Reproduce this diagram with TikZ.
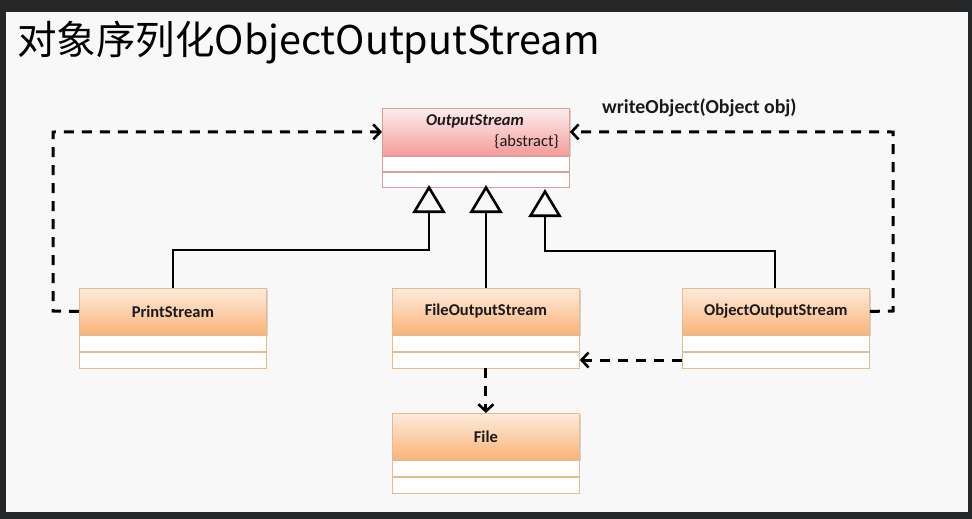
\documentclass[tikz,border=0pt]{standalone}
\usepackage{fontspec}
\setmainfont{Carlito}
\newfontfamily\cjkfont{Noto Sans CJK SC}
\usetikzlibrary{arrows.meta,shadows}
\definecolor{bgc}{HTML}{F8F8F8}
\definecolor{framec}{HTML}{252628}
\definecolor{orTop}{HTML}{FDEBDC}
\definecolor{orBot}{HTML}{FAB47A}
\definecolor{orLine}{HTML}{E9B98C}
\definecolor{pkTop}{HTML}{FDEDED}
\definecolor{pkBot}{HTML}{F49C9C}
\definecolor{pkLine}{HTML}{DE9C9C}
\definecolor{txt}{HTML}{1A1A1A}
\tikzset{
  hdr/.style={draw=orLine, line width=0.8pt, top color=orTop, bottom color=orBot,
    minimum width=187pt, minimum height=46pt, anchor=north west, inner sep=0pt,
    font=\fontsize{16.5}{19}\selectfont\bfseries, text=txt},
  cmp/.style={draw=orLine, line width=0.8pt, fill=white!97!orTop,
    minimum width=187pt, minimum height=16pt, anchor=north, inner sep=0pt},
  phdr/.style={hdr, draw=pkLine, top color=pkTop, bottom color=pkBot, minimum height=47pt},
  pcmp/.style={cmp, draw=pkLine, fill=white!97!pkTop, minimum height=15pt},
  shad/.style={drop shadow={shadow xshift=1.5pt, shadow yshift=-1.5pt, opacity=0.3}},
  inh/.style={line width=2.6pt, -{Triangle[open, length=28pt, width=33pt, line width=2.6pt]}},
  dep/.style={line width=3pt, dash pattern=on 10pt off 8pt,
    -{Straight Barb[length=7pt, width=15pt, line width=2.6pt]}},
}
\begin{document}
\begin{tikzpicture}[x=1pt,y=-1pt]
\fill[framec] (0,0) rectangle (972,519);
\fill[bgc] (6,12) rectangle (968,512);
\useasboundingbox (0,0) rectangle (972,519);

\node[anchor=west, inner sep=0pt, font=\fontsize{39.5}{46}\selectfont\cjkfont, text=black] (title) at (17,43) {对象序列化ObjectOutputStream};

% OutputStream
\node[phdr, shad] (os) at (382,108) {};
\node[pcmp] (os1) at (os.south) {};
\node[pcmp] (os2) at (os1.south) {};
\node[font=\fontsize{16.5}{19}\selectfont\bfseries\itshape, text=txt, inner sep=0pt] (osname) at (475,121) {OutputStream};
\node[font=\fontsize{16.5}{19}\selectfont, text=txt, inner sep=0pt, anchor=east] (osabs) at (559,142) {\{abstract\}};

% PrintStream
\node[hdr, shad] (ps) at (79,288) {PrintStream};
\node[cmp] (ps1) at (ps.south) {};
\node[cmp] (ps2) at (ps1.south) {};

% FileOutputStream
\node[hdr, shad] (fos) at (392,288) {FileOutputStream};
\node[cmp] (fos1) at (fos.south) {};
\node[cmp] (fos2) at (fos1.south) {};

% ObjectOutputStream
\node[hdr, shad] (oos) at (682,288) {ObjectOutputStream};
\node[cmp] (oos1) at (oos.south) {};
\node[cmp] (oos2) at (oos1.south) {};

% File
\node[hdr, shad] (file) at (392,413) {File};
\node[cmp] (file1) at (file.south) {};
\node[cmp] (file2) at (file1.south) {};

% inheritance
\coordinate (t1) at (429,185);
\coordinate (t2) at (486,185);
\coordinate (t3) at (545,189);
\draw[inh] (ps.north) |- (429,250) -- (t1);
\draw[inh] (fos.north -| t2) -- (t2);
\draw[inh] ([xshift=-1pt]oos.north) |- (545,251) -- (t3);

% dependencies
\draw[dep] (ps.west) -- (53,311) -- (53,132) -- (os.west);
\draw[dep] (oos.east) -- (893,311) -- (893,132) -- (os.east);
\draw[dep] (oos2.west) -- (fos2.east);
\draw[dep] (fos2.south) -- (file.north);

\node[anchor=west, inner sep=0pt, font=\fontsize{19.8}{23}\selectfont\bfseries, text=txt] (lbl) at (602,108) {writeObject(Object obj)};
\end{tikzpicture}
\end{document}
